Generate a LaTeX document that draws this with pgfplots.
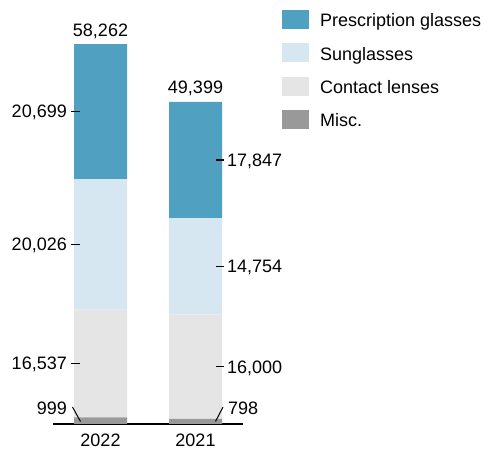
\documentclass[border=0pt]{standalone}
\usepackage{pgfplots}
\pgfplotsset{compat=1.18}
\usepackage{fontspec}
\setmainfont{Liberation Sans}
\definecolor{presc}{RGB}{79,160,193}
\definecolor{sung}{RGB}{214,231,241}
\definecolor{cont}{RGB}{229,229,229}
\definecolor{misc}{RGB}{153,153,153}
\newcommand{\lf}{\fontsize{18bp}{21bp}\selectfont}
\tikzset{lab/.style={font=\lf, inner sep=0pt}}
\begin{document}
\begin{tikzpicture}[x=1bp,y=1bp]
\useasboundingbox (0,0) rectangle (488,451);
\begin{axis}[
  at={(53bp,27bp)}, anchor=south west,
  scale only axis, width=190bp, height=391.3bp,
  xmin=-0.5, xmax=1.5, ymin=0, ymax=60000,
  enlargelimits=false,
  ybar stacked, bar width=53bp,
  axis x line=bottom, axis y line=none,
  x axis line style={-, line width=1.5bp, black},
  xtick={0,1}, xticklabels={2022,2021}, major tick length=0pt,
  xticklabel style={anchor=north, inner sep=0pt, yshift=-10bp, font=\lf},
  ytick=\empty,
  clip=false,
  reverse legend,
  legend image code/.code={\fill[#1] (0bp,-2bp) rectangle (27bp,17bp);},
  legend style={at={(rel axis cs:1.2053,1.058)}, anchor=north west, draw=none, fill=none,
    inner sep=0pt, outer sep=0pt, row sep=12.3bp, column sep=11bp, font=\lf,
    nodes={inner sep=0pt, outer sep=0pt, text height=13bp, text depth=4bp, anchor=base west}},
]
\addplot[fill=misc, draw=none] coordinates {(0,999) (1,798)};
\addplot[fill=cont, draw=none] coordinates {(0,16537) (1,16000)};
\addplot[fill=sung, draw=none] coordinates {(0,20026) (1,14754)};
\addplot[fill=presc, draw=none] coordinates {(0,20699) (1,17847)};
\legend{Misc.,Contact lenses,Sunglasses,Prescription glasses}
% totals
\node[lab, anchor=base] at (axis cs:0,59489) {58,262};
\node[lab, anchor=base] at (axis cs:1,50626) {49,399};
% left labels (2022)
\coordinate (l1a) at (axis cs:-0.3105,47911.5); \coordinate (l1b) at (axis cs:-0.2158,47911.5);
\node[lab, anchor=base east, yshift=-6.4bp] at (axis cs:-0.3526,47911.5) {20,699};
\coordinate (l2a) at (axis cs:-0.3105,27549); \coordinate (l2b) at (axis cs:-0.2158,27549);
\node[lab, anchor=base east, yshift=-6.4bp] at (axis cs:-0.3526,27549) {20,026};
\coordinate (l3a) at (axis cs:-0.3105,9267.5); \coordinate (l3b) at (axis cs:-0.2158,9267.5);
\node[lab, anchor=base east, yshift=-6.4bp] at (axis cs:-0.3526,9267.5) {16,537};
\coordinate (l4a) at (axis cs:-0.2947,2607); \coordinate (l4b) at (axis cs:-0.2105,383);
\node[lab, anchor=base east, yshift=-6.4bp] at (axis cs:-0.3526,2377) {999};
% right labels (2021)
\coordinate (r1a) at (axis cs:1.2158,40475.5); \coordinate (r1b) at (axis cs:1.3,40475.5);
\node[lab, anchor=base west, yshift=-6.4bp] at (axis cs:1.3316,40475.5) {17,847};
\coordinate (r2a) at (axis cs:1.2158,24175); \coordinate (r2b) at (axis cs:1.3,24175);
\node[lab, anchor=base west, yshift=-6.4bp] at (axis cs:1.3316,24175) {14,754};
\coordinate (r3a) at (axis cs:1.2158,8798); \coordinate (r3b) at (axis cs:1.3,8798);
\node[lab, anchor=base west, yshift=-6.4bp] at (axis cs:1.3316,8798) {16,000};
\coordinate (r4a) at (axis cs:1.2105,383); \coordinate (r4b) at (axis cs:1.2895,2607);
\node[lab, anchor=base west, yshift=-6.4bp] at (axis cs:1.3421,2377) {798};
\end{axis}
\draw[line width=1.5bp] (l1a) -- (l1b) (l2a) -- (l2b) (l3a) -- (l3b);
\draw[line width=1.5bp] (r1a) -- (r1b) (r2a) -- (r2b) (r3a) -- (r3b);
\draw[line width=1bp] (l4a) -- (l4b) (r4a) -- (r4b);
\end{tikzpicture}
\end{document}
